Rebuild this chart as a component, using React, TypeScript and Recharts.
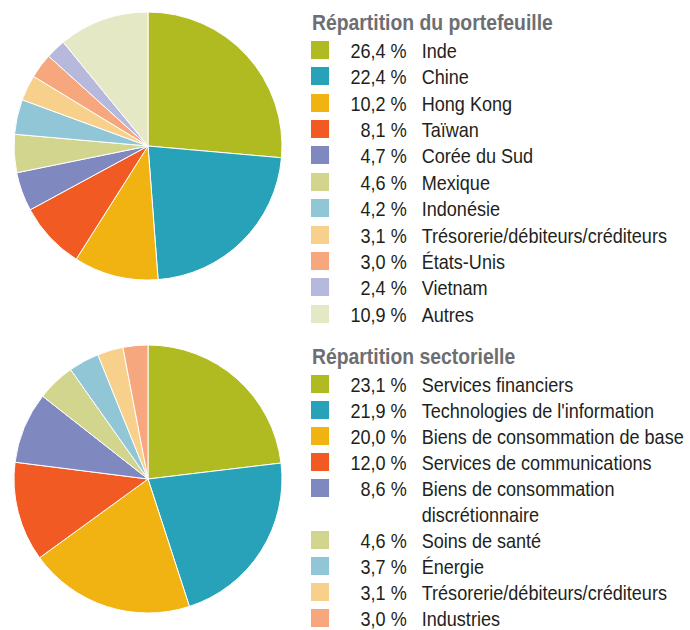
import { PieChart, Pie, Cell, Legend } from 'recharts';

const FONT = '"Liberation Sans", Arial, sans-serif';
const SQUEEZE = 0.86;

const palette = [
  '#b0bb21',
  '#27a2b8',
  '#f0b312',
  '#f15a22',
  '#8088c0',
  '#d2d58e',
  '#90c6d5',
  '#f7d18c',
  '#f6a77e',
  '#b7b9dc',
  '#e5e8c4',
];

const countryNames = [
  'Inde',
  'Chine',
  'Hong Kong',
  'Taïwan',
  'Corée du Sud',
  'Mexique',
  'Indonésie',
  'Trésorerie/débiteurs/créditeurs',
  'États-Unis',
  'Vietnam',
  'Autres',
];
const countryValues = [26.4, 22.4, 10.2, 8.1, 4.7, 4.6, 4.2, 3.1, 3.0, 2.4, 10.9];

const sectorNames = [
  'Services financiers',
  "Technologies de l'information",
  'Biens de consommation de base',
  'Services de communications',
  'Biens de consommation\ndiscrétionnaire',
  'Soins de santé',
  'Énergie',
  'Trésorerie/débiteurs/créditeurs',
  'Industries',
];
const sectorValues = [23.1, 21.9, 20.0, 12.0, 8.6, 4.6, 3.7, 3.1, 3.0];

const countryData = countryNames.map((name, i) => ({ name, value: countryValues[i] }));
const sectorData = sectorNames.map((name, i) => ({ name, value: sectorValues[i] }));

const fmt = (v: number) => v.toFixed(1).replace('.', ',') + ' %';

// legend text is squeezed horizontally to mimic the condensed face of the original
function LegendBlock(props: { title: string; names: string[]; values: number[]; rowH: number }) {
  const { title, names, values, rowH } = props;
  return (
    <div
      style={{
        fontFamily: FONT,
        color: '#231f20',
        textAlign: 'left',
        width: 375 / SQUEEZE,
        transform: `scaleX(${SQUEEZE})`,
        transformOrigin: 'left top',
      }}
    >
      <div
        style={{
          fontSize: 22.5,
          fontWeight: 'bold',
          color: '#6d6e71',
          height: 26.5,
          lineHeight: '26.5px',
          paddingLeft: 1 / SQUEEZE,
          whiteSpace: 'nowrap',
        }}
      >
        {title}
      </div>
      {names.map((name, i) => (
        <div key={name} style={{ display: 'flex', alignItems: 'flex-start', fontSize: 21, lineHeight: rowH + 'px' }}>
          <span style={{ width: 18 / SQUEEZE, height: 18, marginTop: 4.2, background: palette[i], flex: 'none' }} />
          <span
            style={{
              width: 95.7 / SQUEEZE - 18 / SQUEEZE,
              textAlign: 'right',
              flex: 'none',
              whiteSpace: 'nowrap',
              position: 'relative',
              top: 1.2,
            }}
          >
            {fmt(values[i])}
          </span>
          <span style={{ marginLeft: 15 / SQUEEZE, whiteSpace: 'pre', position: 'relative', top: 1.2 }}>{name}</span>
        </div>
      ))}
    </div>
  );
}

export default function App() {
  return (
    <div style={{ position: 'absolute', left: 0, top: 0, width: 690, height: 630, background: '#fff' }}>
      <PieChart width={690} height={315} margin={{ top: 0, right: 0, bottom: 0, left: 0 }}>
        <Pie
          data={countryData}
          dataKey="value"
          nameKey="name"
          cx={148}
          cy={146}
          outerRadius={134}
          startAngle={90}
          endAngle={-270}
          stroke="#ffffff"
          strokeWidth={1}
          isAnimationActive={false}
        >
          {countryData.map((d, i) => (
            <Cell key={d.name} fill={palette[i]} />
          ))}
        </Pie>
        <Legend
          layout="vertical"
          align="right"
          verticalAlign="top"
          wrapperStyle={{ left: 311, top: 10, width: 375 }}
          content={() => (
            <LegendBlock title="Répartition du portefeuille" names={countryNames} values={countryValues} rowH={26.4} />
          )}
        />
      </PieChart>
      <PieChart width={690} height={315} margin={{ top: 0, right: 0, bottom: 0, left: 0 }}>
        <Pie
          data={sectorData}
          dataKey="value"
          nameKey="name"
          cx={148}
          cy={164}
          outerRadius={134}
          startAngle={90}
          endAngle={-270}
          stroke="#ffffff"
          strokeWidth={1}
          isAnimationActive={false}
        >
          {sectorData.map((d, i) => (
            <Cell key={d.name} fill={palette[i]} />
          ))}
        </Pie>
        <Legend
          layout="vertical"
          align="right"
          verticalAlign="top"
          wrapperStyle={{ left: 311, top: 29.3, width: 375 }}
          content={() => (
            <LegendBlock title="Répartition sectorielle" names={sectorNames} values={sectorValues} rowH={26.0} />
          )}
        />
      </PieChart>
    </div>
  );
}
